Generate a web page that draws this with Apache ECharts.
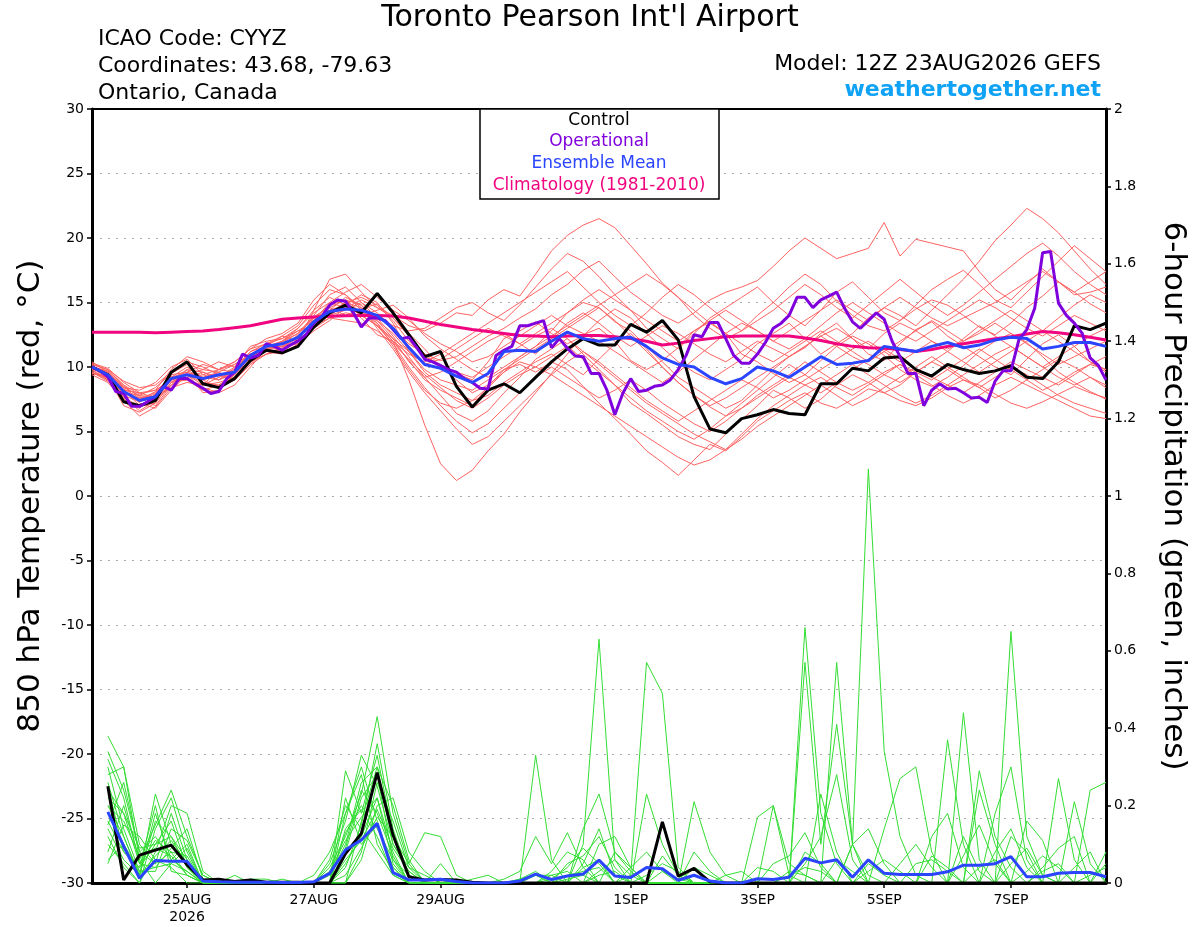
<!DOCTYPE html>
<html><head><meta charset="utf-8">
<script src="https://cdn.jsdelivr.net/npm/echarts@6/dist/echarts.min.js"></script>
<style>html,body{margin:0;padding:0;background:#fff}#c{width:1200px;height:927px}</style>
</head><body><div id="c"></div>
<script>
// x axis: hours since 12Z 23AUG2026
const xLabelHours = [36, 84, 132, 204, 252, 300, 348];
const xLabelTexts = ['25AUG\n2026', '27AUG', '29AUG', '1SEP', '3SEP', '5SEP', '7SEP'];

// 850 hPa temperature, 6-hourly from hour 0
const control = [10.0,9.4,7.3,7.0,7.4,9.6,10.4,8.7,8.4,9.1, 10.5,11.3,11.1,11.6,13.1,14.2,14.8,14.2,15.7,14.2,
 12.5,10.8,11.2,8.5,6.9,8.2,8.7,8.0,9.2,10.4, 11.4,12.2,11.7,11.7,13.3,12.7,13.6,12.1,7.7,5.2,
 4.9,6.0,6.3,6.7,6.4,6.3,8.7,8.7,9.9,9.7, 10.7,10.8,9.8,9.3,10.2,9.8,9.5,9.7,10.1,9.2, 9.1,10.4,13.2,12.9,13.4];
const ensMean = [10.0,9.4,8.1,7.4,7.7,9.1,9.4,9.1,9.4,9.6, 10.9,11.6,11.8,12.3,13.5,14.3,14.5,14.4,14.0,13.0,
 11.5,10.2,9.9,9.3,8.8,9.5,11.2,11.3,11.2,12.0, 12.7,12.2,12.0,12.2,12.3,11.6,10.7,10.2,10.0,9.2,
 8.7,9.1,10.0,9.7,9.2,10.0,10.8,10.2,10.3,10.5, 11.6,11.4,11.2,11.6,11.9,11.5,11.7,12.1,12.3,12.2, 11.4,11.6,11.9,11.9,11.6];
const climatology = [12.7,12.7,12.7,12.7,12.65,12.7,12.75,12.8,12.9,13.05, 13.2,13.45,13.7,13.8,13.88,13.93,13.97,14.0,14.0,13.95,
 13.8,13.55,13.3,13.1,12.9,12.75,12.6,12.45,12.4,12.35, 12.4,12.45,12.45,12.35,12.2,12.0,11.7,11.85,12.05,12.2,
 12.35,12.4,12.4,12.4,12.4,12.25,12.05,11.8,11.6,11.5, 11.45,11.35,11.2,11.35,11.6,11.8,12.0,12.2,12.35,12.55, 12.75,12.65,12.5,12.3,12.1];
// operational, 3-hourly from hour 0
const operational = [10.0,9.7,9.25,8.1,7.95,6.95,6.95,7.3,7.7,8.5,
 8.2,9.1,9.1,8.7,8.35,7.95,8.1,9.1,9.6,11.0,
 10.7,10.9,11.8,11.6,11.3,11.7,12.0,12.5,13.4,13.9,
 14.8,15.2,15.1,14.2,13.1,13.8,13.8,13.6,12.9,12.2,
 12.3,11.5,10.6,10.4,10.1,9.8,9.6,9.1,8.8,8.35,
 8.3,10.9,11.3,11.6,13.2,13.2,13.4,13.6,11.5,12.2,
 11.45,10.85,10.8,9.5,9.5,8.2,6.3,7.95,9.1,8.1,
 8.2,8.5,8.6,9.0,9.8,10.9,12.5,12.35,13.45,13.45,
 12.2,10.9,10.3,10.3,11.0,11.9,13.0,13.4,14.0,15.4,
 15.4,14.6,15.2,15.5,15.8,14.55,13.5,13.0,13.6,14.2,
 13.7,12.0,10.8,9.5,9.5,7.0,8.2,8.7,8.3,8.35,
 8.0,7.6,7.65,7.25,8.9,9.7,9.7,12.1,12.9,14.55,
 18.85,18.95,14.95,14.0,13.4,12.6,10.7,10.15,9.0];

// ensemble members, temperature, 6-hourly from hour 0
const mem01 = [9.8,9.0,7.5,6.8,7.9,9.3,9.0,8.6,9.8,10.2, 11.0,11.5,12.0,13.0,14.2,15.0,14.6,13.8,12.5,12.0, 9.0,5.5,2.5,1.2,2.0,3.5,4.8,6.5,8.0,9.5, 11.0,12.5,13.0,12.0,10.5,9.8,10.5,11.5,12.8,13.5, 12.6,11.0,10.4,9.5,8.8,9.4,10.5,11.6,12.4,11.8, 10.9,9.8,9.0,8.5,9.2,10.1,11.2,12.0,12.6,11.9, 10.8,9.6,8.8,8.1,7.5];
const mem02 = [10.2,9.8,8.6,7.9,8.2,9.0,9.8,9.6,9.2,10.0, 11.6,12.0,12.2,13.0,14.4,16.8,17.2,15.8,14.6,14.0, 13.2,12.8,13.4,14.2,14.0,15.2,16.0,15.5,17.2,19.0, 20.2,21.0,21.5,20.8,19.4,18.0,16.5,15.4,14.0,13.0, 12.2,12.8,14.0,15.0,16.2,17.2,16.4,15.1,14.0,13.2, 12.8,13.6,14.5,15.2,14.8,14.0,13.1,12.5,13.4,14.6, 15.5,16.6,15.8,14.9,14.2];
const mem03 = [9.5,9.2,7.0,6.5,7.2,8.8,9.5,8.0,8.2,9.4, 10.6,11.8,11.2,12.0,13.8,14.8,15.2,14.2,13.4,12.0, 10.5,9.0,8.2,7.6,7.0,8.5,9.8,10.2,9.6,10.4, 9.8,8.5,7.2,6.0,4.8,3.5,2.6,1.6,2.8,4.0, 3.5,4.6,5.8,6.6,7.4,8.0,7.2,6.8,7.5,8.3, 8.0,7.4,7.0,7.6,8.4,9.0,8.6,7.9,7.2,6.8, 7.3,7.9,8.5,8.0,7.6];
const mem04 = [10.0,9.5,8.3,7.6,7.0,8.6,9.2,9.6,9.0,9.5, 10.8,11.2,12.0,12.8,13.0,14.2,15.0,15.4,14.8,13.6, 12.0,10.8,10.2,9.5,9.0,10.4,12.2,12.8,13.5,12.6, 11.8,12.4,13.6,14.5,13.8,12.6,11.5,10.4,9.6,9.0, 9.8,10.6,11.8,12.6,13.4,12.2,11.0,11.8,12.6,13.8, 14.6,14.0,13.2,14.4,15.6,16.8,18.2,19.8,21.0,22.3, 21.5,20.4,19.0,17.6,16.4];
const mem05 = [9.6,9.0,8.0,7.8,8.4,9.5,10.2,9.8,9.6,9.0, 10.2,11.0,11.5,12.5,13.9,14.6,14.0,14.5,14.9,13.8, 12.6,11.4,10.0,9.0,8.0,8.6,9.6,10.8,11.6,12.8, 14.2,15.0,14.6,13.5,12.8,11.6,10.4,9.2,8.4,7.6, 6.8,7.4,8.6,9.8,10.8,11.5,12.6,13.4,12.2,11.0, 10.5,11.8,12.9,13.5,12.4,11.6,10.8,10.0,9.4,10.6, 11.8,12.5,11.6,10.4,9.6];
const mem06 = [10.1,9.6,8.2,7.0,7.5,9.4,9.6,9.0,9.4,9.8, 11.2,11.8,12.4,12.0,13.2,14.0,14.4,15.0,14.2,13.0, 11.8,11.0,10.5,10.8,11.6,12.4,13.0,13.8,14.5,15.6, 16.4,17.5,18.2,17.0,15.8,14.9,14.0,13.4,14.2,15.2, 15.8,16.2,16.7,17.8,19.0,20.0,19.2,18.4,18.8,19.2, 21.2,18.6,19.9,19.6,19.3,19.0,17.4,16.0,15.2,16.4, 17.6,16.6,15.6,15.8,16.2];
const mem07 = [9.9,9.3,7.8,7.3,7.8,8.9,9.0,8.4,8.0,8.6, 10.0,11.4,11.9,12.6,14.0,15.6,16.2,15.0,13.8,12.4, 10.8,9.2,7.8,6.4,5.8,6.6,8.0,9.2,10.6,11.4, 12.2,11.0,9.8,8.6,7.2,6.4,5.5,4.6,4.0,3.6, 4.8,5.9,7.0,8.2,7.6,6.8,7.5,8.6,9.4,8.8, 8.0,8.6,9.6,10.4,9.8,9.0,8.4,9.2,10.0,9.4, 8.6,7.8,7.2,6.8,6.4];
const mem08 = [10.3,9.9,8.8,8.0,7.6,8.4,9.6,10.2,9.8,10.4, 11.4,12.2,12.6,13.4,15.2,16.4,15.6,14.6,14.0,13.2, 12.8,13.0,13.8,14.6,15.0,14.2,13.6,14.8,16.2,17.6, 18.8,18.2,17.0,15.6,14.4,13.0,12.2,11.4,12.6,13.8, 14.6,15.4,16.2,15.0,14.0,13.2,14.4,15.8,16.6,15.4, 14.2,13.6,14.8,16.0,16.8,17.5,16.4,15.2,14.6,15.8, 17.0,18.2,19.4,18.4,17.4];
const mem09 = [9.7,9.1,8.4,8.2,8.8,10.0,10.6,9.4,9.0,9.9, 11.0,11.3,11.6,12.2,13.4,14.0,14.8,15.6,15.0,13.4, 11.2,9.6,8.6,8.0,7.4,7.8,8.8,9.6,10.4,11.0, 10.2,9.4,10.6,11.8,12.6,11.4,10.0,8.8,7.8,6.9, 6.2,6.8,7.6,8.4,9.2,8.6,8.0,8.8,9.8,10.6, 11.4,10.6,9.8,9.2,8.6,8.0,8.8,9.6,10.4,9.8, 9.2,8.6,9.4,10.2,9.8];
const mem10 = [10.0,9.7,8.6,7.2,6.8,8.2,9.4,9.8,10.4,10.0, 10.6,11.8,12.2,12.8,13.6,14.4,15.4,14.8,13.6,12.2, 10.4,9.2,9.6,10.4,11.2,12.0,12.6,11.8,11.0,12.2, 13.4,14.2,13.4,12.4,11.6,12.4,13.2,12.6,11.8,11.0, 10.4,11.2,12.0,11.4,10.8,11.6,12.4,13.0,12.2,11.4, 12.6,13.4,12.8,12.0,11.4,12.0,12.8,13.6,14.4,13.6, 12.8,13.8,14.8,15.6,15.0];
const mem11 = [9.4,8.8,7.4,6.2,6.9,8.4,8.8,8.6,9.2,9.6, 10.4,11.0,11.4,12.4,13.2,13.8,14.2,14.0,13.2,11.8, 10.0,8.4,7.0,5.8,4.9,5.6,6.8,8.0,9.2,10.0, 9.2,8.4,7.6,8.2,9.0,8.2,7.2,6.4,5.6,5.0, 5.8,6.8,7.8,8.6,9.4,10.4,9.6,8.8,8.2,8.8, 9.6,10.2,9.4,8.6,7.8,7.2,7.8,8.6,9.2,8.6, 8.0,7.4,6.8,6.2,6.0];
const mem12 = [10.1,9.4,7.9,7.6,8.0,9.2,10.0,9.2,9.6,10.2, 11.0,11.4,11.8,12.2,13.6,15.0,15.8,16.4,15.4,14.4, 13.6,12.6,11.8,11.2,10.4,10.8,11.6,12.4,13.2,14.0, 13.2,12.6,12.0,11.2,10.4,9.6,8.8,9.6,10.6,11.6, 12.6,13.4,12.8,12.0,11.4,12.2,13.2,14.2,15.0,14.2, 13.4,12.6,12.0,12.8,13.6,14.4,15.2,14.6,13.8,13.0, 12.4,13.2,14.0,13.4,12.8];
const mem13 = [9.9,9.6,8.5,7.7,7.4,9.0,9.4,8.8,8.6,9.2, 10.6,11.6,11.6,11.8,12.8,13.6,14.6,15.2,14.6,13.8, 12.4,11.0,10.0,9.6,9.2,10.0,10.8,11.6,12.4,13.0, 12.2,11.2,10.2,9.2,8.2,7.2,6.4,5.6,4.8,4.2, 3.6,4.4,5.4,6.2,7.0,7.8,8.6,9.4,10.2,9.4, 8.6,7.8,7.2,7.8,8.6,9.4,10.2,11.0,11.6,10.8, 10.0,9.2,8.6,9.2,8.6];
const mem14 = [10.2,9.8,8.9,8.4,8.6,9.6,10.4,10.0,9.4,9.0, 10.2,11.6,12.4,13.2,14.8,16.0,15.6,14.4,13.2,12.0, 11.0,10.4,11.0,11.8,12.6,13.4,14.2,15.0,15.8,16.6, 17.4,16.2,15.0,14.0,13.2,14.2,15.4,16.4,15.6,14.6, 13.6,12.8,13.6,14.4,15.4,16.4,15.6,14.6,13.8,14.8, 15.8,16.8,15.8,14.8,14.0,14.8,15.8,16.8,17.8,18.8, 19.6,18.6,17.4,16.4,15.6];
const mem15 = [9.6,8.9,7.6,7.0,7.2,8.8,9.0,8.2,8.6,9.4, 10.8,11.2,11.0,11.8,13.0,14.2,15.0,14.6,13.0,11.4, 9.6,8.0,6.6,5.2,4.0,4.6,5.8,7.0,8.2,9.4, 10.4,11.2,10.4,9.4,8.4,7.4,6.6,5.8,6.6,7.4, 8.2,9.0,8.4,7.6,8.2,9.0,9.8,10.6,11.4,12.0, 11.2,10.4,11.2,12.0,11.2,10.4,9.6,10.4,11.2,12.0, 12.8,12.0,11.2,10.4,9.8];
const mem16 = [10.0,9.2,8.2,8.0,8.2,9.8,10.8,10.4,9.8,9.6, 11.0,11.2,11.4,12.0,14.4,15.4,14.8,14.0,14.4,14.8, 13.8,12.4,11.4,10.6,9.8,9.2,10.0,10.8,11.6,12.4, 13.2,14.0,14.8,15.6,16.4,17.2,16.4,15.4,14.4,13.4, 12.6,11.8,11.0,10.4,11.2,12.0,12.8,12.0,11.2,10.4, 11.2,12.0,12.8,13.6,12.8,12.0,12.6,13.4,12.6,11.8, 11.0,10.2,10.8,11.4,12.0];
const mem17 = [9.8,9.5,8.0,7.5,7.9,9.0,9.2,9.4,9.8,10.4, 11.4,11.8,11.6,12.4,13.4,14.2,14.6,14.2,13.6,12.6, 11.2,9.8,9.0,8.6,8.2,9.0,9.8,10.6,11.4,12.2, 13.0,13.8,14.6,13.6,12.4,11.2,10.0,8.8,7.8,7.0, 7.6,8.4,9.2,10.0,10.8,11.6,12.4,11.6,10.8,10.2, 9.4,8.8,9.6,10.4,11.2,12.2,13.2,12.4,11.6,10.8, 10.0,10.8,11.6,12.4,13.0];
const mem18 = [10.4,9.6,8.4,7.8,7.6,8.6,9.8,9.0,8.4,9.0, 10.4,11.0,11.2,12.0,13.0,13.8,13.6,13.4,12.8,11.8, 10.6,9.4,8.4,7.4,6.8,7.6,8.6,9.4,10.0,10.8, 11.6,10.6,9.6,8.6,7.6,6.6,5.8,5.0,4.4,5.2, 6.2,7.2,8.2,9.2,10.2,9.4,8.6,7.8,7.0,7.6, 8.4,9.2,10.0,10.8,10.0,9.2,8.4,7.6,8.2,9.0, 9.8,10.6,10.0,9.2,8.4];
const mem19 = [9.5,9.3,8.1,7.4,8.1,9.2,9.6,9.2,9.0,9.6, 11.2,11.6,12.0,12.6,13.8,14.4,14.8,14.0,13.2,12.2, 11.2,10.2,10.6,11.4,12.2,13.0,12.4,11.8,12.6,13.4, 14.2,15.2,16.0,15.2,14.4,13.6,12.8,12.0,12.8,13.6, 14.4,13.6,12.8,12.0,12.8,13.6,14.4,15.2,14.4,13.6, 14.6,15.4,14.6,13.8,13.2,13.8,14.4,15.0,15.8,16.6, 17.4,16.6,15.8,16.6,17.4];
const mem20 = [10.0,9.0,7.7,6.6,7.4,9.1,9.4,8.6,8.8,9.2, 10.6,11.4,11.8,12.2,13.6,14.6,15.2,14.8,13.4,11.6, 9.8,8.2,7.2,6.8,7.4,8.4,9.6,10.4,10.0,9.4, 8.6,7.8,7.0,6.2,5.4,4.6,3.8,3.0,2.4,2.8, 3.6,4.8,6.0,7.0,7.8,8.6,9.2,8.4,7.8,8.6, 9.4,10.2,9.6,9.0,9.8,10.6,11.4,10.6,9.8,9.0, 8.2,8.8,9.6,10.2,10.8];

// 6-hour precipitation (inches), 6-hourly from hour 6
const controlPrecip = [.25,.008,.072,.085,.098,.047,.008,.01, .004,.008,.002,.002,.002,0,0,.076,
 .128,.285,.124,.016,.008,.009,.008,.002, 0,0,0,0,0,0,0,0, 0,0,0,.158,.018,.038,.003,0,
 0,0,0,0,0,0,0,0, 0,0,0,0,0,0,0,0, 0,0,0,0,0,0,0,0];
const meanPrecip = [.184,.095,.012,.058,.056,.056,.005,.003, .002,.002,.002,.001,.001,.003,.025,.086,
 .111,.154,.027,.008,.008,.0095,.004,0, 0,0,.005,.023,.009,.018,.023,.059, .018,.014,.04,.037,.007,.02,.005,0,
 0,.011,.009,.015,.064,.052,.06,.015, .06,.025,.022,.022,.022,.029,.046,.046, .05,.068,.016,.016,.025,.027,.027,.016];
const pcp01 = [.38,.30,.10,.05,.08,.02,0,0, 0,0,0,0,0,0,0,.05, .12,.22,.08,0,0,0,.01,0, 0,0,0,0,0,0,.05,.14, .02,0,0,0,0,0,0,0, 0,0,0,0,.66,.18,.05,0, 0,0,0,0,0,0,.12,.03, 0,0,0,0,0,0,0,0];
const pcp02 = [.28,.30,.06,.15,.24,.12,.02,0, 0,0,0,0,0,0,0,.29, .18,.33,.12,.02,0,0,0,0, 0,0,0,.33,.06,0,0,0, 0,.02,.57,.49,.04,0,0,0, 0,0,0,0,0,0,0,.10, 1.07,.34,.12,.02,0,0,0,0, 0,0,0,0,0,0,0,0];
const pcp03 = [.20,.12,.02,.23,.10,.05,0,0, 0,0,0,0,0,0,.04,.12, .23,.43,.18,.05,.13,.12,.02,0, 0,0,0,0,0,0,.10,.63, .06,0,0,0,0,0,0,0, 0,0,0,0,0,0,.57,.10, .02,0,0,0,0,0,0,0, 0,.65,.12,.02,0,0,0,0];
const pcp04 = [.15,.26,.08,.12,.06,.10,0,0, 0,0,0,0,0,.02,.08,.18, .30,.16,.04,0,0,0,0,0, 0,.01,.03,.12,.05,.13,.04,0, 0,0,0,.07,.02,0,0,0, 0,0,0,0,.57,.10,.41,.10, 0,0,0,0,0,.37,.10,0, 0,0,0,0,0,.21,.05,0];
const pcp05 = [.10,.05,0,.08,.20,.18,.03,0, .02,0,0,0,0,0,0,.08, .22,.28,.06,0,0,0,0,0, 0,0,0,0,0,0,.14,.23, .08,.03,0,0,0,0,0,0, 0,.17,.20,.02,0,0,0,0, 0,0,0,0,0,0,.44,.06, 0,0,0,0,0,0,.24,.26];
const pcp06 = [.25,.08,.04,.10,.12,.06,0,0, 0,0,0,0,0,0,.05,.16, .33,.25,.10,.04,0,.05,0,0, 0,0,0,0,.03,.08,.06,0, 0,0,.23,.10,.02,0,0,0, 0,0,0,0,0,0,0,0, 0,.14,.27,.30,.08,0,0,0, 0,0,0,0,.27,.06,0,0];
const pcp07 = [.05,.15,.12,.06,.04,0,0,0, 0,0,0,0,0,0,0,0, .06,.20,.22,.08,.03,0,0,0, 0,0,.01,.02,.02,0,0,0, 0,0,0,0,0,.21,.08,.02, 0,0,.20,.05,.02,0,0,0, 0,0,0,0,0,0,0,.29, .12,.04,0,0,0,0,0,0];
const pcp08 = [.32,.22,.05,.04,.09,.14,.01,0, 0,0,0,0,0,0,0,.04, .15,.36,.14,.02,0,0,0,0, 0,0,0,0,0,.05,.07,.12, .04,0,0,0,0,.08,.03,0, 0,0,0,0,0,0,0,.10, .14,.05,0,0,0,0,0,.24, .10,0,.16,.11,0,0,0,0];
const pcp09 = [.18,.10,.02,.18,.06,.03,0,0, 0,0,0,.01,0,0,0,.22, .10,.15,.04,0,0,0,0,0, 0,0,0,0,0,0,0,.03, .06,.02,0,0,0,0,0,0, 0,0,0,0,0,.23,.08,0, 0,0,0,0,.12,.18,.04,0, 0,0,0,0,0,0,0,.08];
const pcp10 = [.22,.18,.09,.10,.16,.04,0,0, 0,0,0,0,0,0,.02,.10, .26,.30,.20,.06,0,0,0,.01, .02,0,0,0,0,0,0,0, .08,.04,0,0,0,0,0,0, 0,0,.05,.07,.13,.04,0,0, 0,0,0,0,0,0,0,0, .18,.30,.06,0,0,0,0,0];
const pcp11 = [.12,.04,0,.14,.22,.08,0,0, 0,0,0,0,0,0,0,.14, .19,.12,.02,0,0,0,0,0, 0,0,0,0,.01,.04,.09,.05, 0,0,0,0,0,0,0,.02, .03,0,0,0,0,0,0,0, 0,0,0,.05,.06,.03,0,0, 0,0,0,.04,.09,.12,0,0];
const pcp12 = [.30,.14,.03,.03,.14,.11,.02,0, 0,0,0,0,0,0,0,0, .08,.26,.16,.04,.02,0,0,0, 0,0,0,.02,0,0,0,0, 0,.04,.08,.03,0,0,0,0, 0,0,0,0,0,0,0,0, .05,.02,0,0,0,0,0,0, 0,.12,.08,0,0,0,0,.05];
const pcp13 = [.08,.20,.06,0,.05,.09,0,0, 0,0,0,0,0,0,0,.18, .28,.10,.03,0,0,0,0,0, 0,0,0,0,0,.02,.03,.04, 0,0,0,0,0,0,0,0, 0,0,0,0,.05,.12,.28,.06, 0,0,0,0,0,0,0,0, 0,0,0,.03,.05,0,0,0];
const pcp14 = [.26,.12,.02,.07,.11,.05,0,0, 0,0,0,0,0,0,0,.06, .11,.19,.09,.03,0,0,0,0, 0,0,0,0,0,0,0,0, 0,0,.02,.05,.03,0,0,0, 0,0,0,0,0,0,0,0, 0,0,.05,.10,.04,0,0,0, .08,.14,.04,0,0,0,0,0];
const pcp15 = [.16,.08,.04,.20,.03,.02,0,.01, 0,0,0,0,0,0,.03,.11, .17,.22,.05,0,0,0,0,0, 0,0,.01,.03,0,0,0,.10, .12,.04,0,0,0,0,0,0, 0,0,0,.02,.04,.03,0,0, 0,0,0,0,0,0,.07,.15, .05,0,0,0,0,0,0,0];
const pcp16 = [.20,.16,.07,.09,.07,.02,0,0, 0,0,0,0,0,0,0,.13, .20,.14,.06,.02,0,0,0,0, 0,0,0,0,0,0,0,0, 0,0,0,0,0,.04,.02,0, 0,0,0,0,0,0,.06,.03, 0,0,0,0,0,0,0,0, 0,0,.03,.07,.04,0,0,0];
const pcp17 = [.34,.24,.08,.05,.18,.06,0,0, 0,.01,.01,0,0,0,0,.09, .24,.18,.07,0,0,0,0,0, 0,0,0,0,0,0,.04,.06, 0,0,0,0,0,0,0,0, 0,.04,.03,0,0,0,0,0, 0,0,0,0,.07,.04,0,0, 0,0,0,0,0,.04,.08,0];
const pcp18 = [.14,.06,.02,.16,.12,.04,0,0, 0,0,0,0,0,0,.06,.20, .14,.08,.02,0,0,0,0,0, 0,0,0,0,.02,.03,0,0, 0,0,0,.03,.01,0,0,0, 0,0,0,0,0,0,0,0, .03,.06,.03,0,0,0,0,.04, .06,0,0,0,0,0,0,0];
const pcp19 = [.24,.18,.05,.11,.08,.07,0,0, 0,0,0,0,0,0,0,0, .16,.30,.10,.03,0,0,0,0, 0,0,0,0,0,0,0,.02, .03,0,0,0,0,0,0,0, 0,0,0,0,.08,.05,0,0, 0,0,0,0,0,0,0,0, 0,.05,.09,.02,0,0,0,0];
const pcp20 = [.06,.10,.03,.04,.05,.03,0,0, 0,0,0,0,0,0,0,.02, .09,.17,.12,.05,0,0,0,0, 0,0,0,0,0,.01,.02,0, 0,0,0,0,0,0,0,0, 0,0,0,.03,.02,0,0,0, 0,0,0,0,0,0,0,0, 0,0,0,0,0,0,.02,.04];

const tempMembers = [mem01,mem02,mem03,mem04,mem05,mem06,mem07,mem08,mem09,mem10,mem11,mem12,mem13,mem14,mem15,mem16,mem17,mem18,mem19,mem20];
const precipMembers = [pcp01,pcp02,pcp03,pcp04,pcp05,pcp06,pcp07,pcp08,pcp09,pcp10,pcp11,pcp12,pcp13,pcp14,pcp15,pcp16,pcp17,pcp18,pcp19,pcp20];

const FONT = 'DejaVu Sans';
function toPairs(values, stepHours, firstHour) {
  return values.map((v, k) => [firstHour + k * stepHours, v]);
}
function line(name, data, axis, color, width, z) {
  return { type: 'line', name, data, yAxisIndex: axis, symbol: 'none', silent: true, z,
    lineStyle: { color, width }, emphasis: { disabled: true } };
}

const series = [];
tempMembers.forEach((m, k) => series.push(line('T member ' + (k + 1), toPairs(m, 6, 0), 0, '#ff6262', 1, 1)));
precipMembers.forEach((m, k) => series.push(line('P member ' + (k + 1), toPairs(m, 6, 6), 1, '#33dd33', 1, 1)));
series.push(line('Climatology', toPairs(climatology, 6, 0), 0, '#f0047f', 3, 3));
series.push(line('Control', toPairs(control, 6, 0), 0, '#000000', 3, 4));
series.push(line('Operational', toPairs(operational, 3, 0), 0, '#7f00dd', 3, 5));
series.push(line('Ensemble Mean', toPairs(ensMean, 6, 0), 0, '#2a44ff', 3, 6));
series.push(line('Control precip', toPairs(controlPrecip, 6, 6), 1, '#000000', 3, 4));
series.push(line('Mean precip', toPairs(meanPrecip, 6, 6), 1, '#2a44ff', 3, 6));

const txt = (text, x, y, size, color, align, extra) => Object.assign({
  type: 'text', x, y, silent: true, z: 100,
  style: { text, fontFamily: FONT, fontSize: size, fill: color, align, verticalAlign: 'middle' }
}, extra || {});

const chart = echarts.init(document.getElementById('c'), null, { renderer: 'canvas' });
chart.setOption({
  animation: false,
  backgroundColor: '#ffffff',
  grid: { left: 92, right: 94, top: 109, bottom: 44, show: false },
  xAxis: [{
    type: 'value', min: 0, max: 384, position: 'bottom',
    splitLine: { show: false },
    axisLine: { show: true, onZero: false, lineStyle: { color: '#000', width: 3 } },
    axisTick: { show: true, customValues: xLabelHours, length: 5, lineStyle: { color: '#000', width: 1.5 } },
    axisLabel: { customValues: xLabelHours, formatter: v => xLabelTexts[xLabelHours.indexOf(v)] || '',
      color: '#000', fontFamily: FONT, fontSize: 14, margin: 9, lineHeight: 17 }
  }, {
    type: 'value', min: 0, max: 384, position: 'top',
    splitLine: { show: false }, axisTick: { show: false }, axisLabel: { show: false },
    axisLine: { show: true, onZero: false, lineStyle: { color: '#000', width: 2 } }
  }],
  yAxis: [{
    type: 'value', min: -30, max: 30, interval: 5, position: 'left',
    axisLine: { show: true, onZero: false, lineStyle: { color: '#000', width: 3 } },
    axisTick: { show: true, length: 5, lineStyle: { color: '#000', width: 1.5 } },
    axisLabel: { color: '#000', fontFamily: FONT, fontSize: 14, margin: 8 },
    splitLine: { show: true, lineStyle: { color: '#aaaaaa', width: 1, type: [2, 6] } }
  }, {
    type: 'value', min: 0, max: 2, interval: 0.2, position: 'right',
    axisLine: { show: true, onZero: false, lineStyle: { color: '#000', width: 3 } },
    axisTick: { show: true, length: 5, lineStyle: { color: '#000', width: 1.5 } },
    axisLabel: { color: '#000', fontFamily: FONT, fontSize: 14, margin: 8, formatter: v => String(Math.round(v * 10) / 10) },
    splitLine: { show: false }
  }],
  graphic: [
    txt("Toronto Pearson Int'l Airport", 590, 18, 30, '#000', 'center'),
    txt('ICAO Code: CYYZ', 98, 39, 22, '#000', 'left'),
    txt('Coordinates: 43.68, -79.63', 98, 66, 22, '#000', 'left'),
    txt('Ontario, Canada', 98, 93, 22, '#000', 'left'),
    txt('Model: 12Z 23AUG2026 GEFS', 1101, 64, 22, '#000', 'right'),
    { type: 'text', x: 1101, y: 90, silent: true, z: 100,
      style: { text: 'weathertogether.net', fontFamily: FONT, fontWeight: 'bold', fontSize: 22, fill: '#0fa2f5', align: 'right', verticalAlign: 'middle' } },
    { type: 'rect', silent: true, z: 90, shape: { x: 480, y: 109, width: 239, height: 90 },
      style: { fill: '#ffffff', stroke: '#000', lineWidth: 1.5 } },
    txt('Control', 599, 121, 17, '#000', 'center'),
    txt('Operational', 599, 142, 17, '#7f00dd', 'center'),
    txt('Ensemble Mean', 599, 164, 17, '#2a44ff', 'center'),
    txt('Climatology (1981-2010)', 599, 186, 17, '#f0047f', 'center'),
    txt('850 hPa Temperature (red, °C)', 31, 496, 31, '#000', 'center', { rotation: Math.PI / 2 }),
    txt('6-hour Precipitation (green, inches)', 1173, 496, 31, '#000', 'center', { rotation: -Math.PI / 2 })
  ],
  series
});
</script>
</body></html>
